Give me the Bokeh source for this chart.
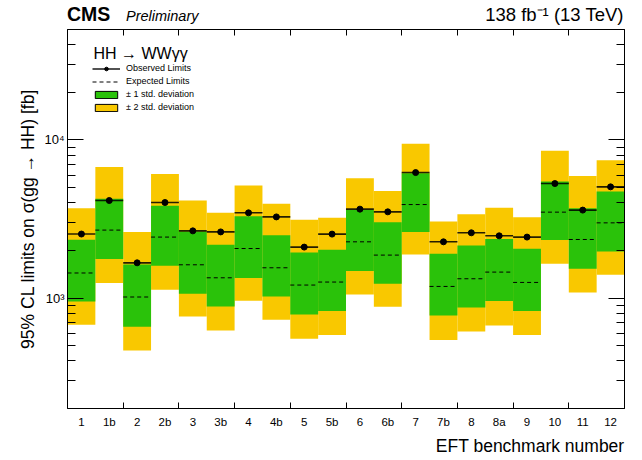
from bokeh.plotting import figure
from bokeh.layouts import column
from bokeh.models import (Range1d, FixedTicker, LinearAxis, LogAxis, Label, Title, Div,
                          Legend, LegendItem, ColumnDataSource)
from bokeh.embed import file_html
from bokeh.resources import INLINE

# ---- data ----
categories = ["1", "1b", "2", "2b", "3", "3b", "4", "4b", "5", "5b",
              "6", "6b", "7", "7b", "8", "8a", "9", "10", "11", "12"]
observed = [2540, 4140, 1670, 4020, 2660, 2620, 3460, 3260, 2100, 2537,
            3650, 3510, 6220, 2268, 2586, 2475, 2430, 5300, 3600, 5050]
expected = [1440, 2690, 1015, 2430, 1623, 1343, 2057, 1554, 1208, 1262,
            2268, 1869, 3903, 1184, 1324, 1459, 1255, 3494, 2346, 2990]
minus2 = [678, 1244, 465, 1128, 765, 622, 962, 729, 553, 584,
          1054, 881, 1886, 543, 615, 671, 584, 1647, 1085, 1404]
minus1 = [952, 1764, 659, 1600, 1065, 885, 1338, 1023, 788, 828,
          1481, 1231, 2612, 776, 872, 957, 828, 2325, 1531, 1970]
plus1 = [2335, 4240, 1630, 3830, 2635, 2170, 3296, 2500, 1941, 2019,
         3612, 3021, 6162, 1905, 2149, 2359, 2048, 5453, 3703, 4714]
plus2 = [3700, 6750, 2620, 6100, 4140, 3470, 5144, 3943, 3123, 3216,
         5728, 4762, 9475, 3047, 3394, 3719, 3249, 8558, 5923, 7443]

y_major = [1000, 10000]
y_major_labels = ["10\u00b3", "10\u2074"]
y_minor = [300, 400, 500, 600, 700, 800, 900,
           2000, 3000, 4000, 5000, 6000, 7000, 8000, 9000,
           20000, 30000, 40000]
x_edge_ticks = [2, 4, 6, 8, 10, 12, 14, 16, 18]

FONT = "Liberation Sans"
YELLOW = "#F9C800"
GREEN = "#2AC20A"

W = 640
HEAD_H = 26
FW, FH = 557, 380

# ---------------- header (CMS label + luminosity) as real HTML text ----------------
span = ("position:absolute;white-space:nowrap;line-height:1;color:black;"
        "font-family:'Liberation Sans',Arial,sans-serif;")
head_html = (
    f'<div style="position:relative;width:{W}px;height:{HEAD_H}px;">'
    f'<span style="{span}left:67px;top:5px;font-size:19.5px;font-weight:bold;">CMS</span>'
    f'<span style="{span}left:126px;top:9.2px;font-size:14.5px;font-style:italic;">Preliminary</span>'
    f'<span style="{span}right:16.5px;top:5.8px;font-size:18.5px;">138 fb\u207b\u00b9 (13 TeV)</span>'
    '</div>'
)
head = Div(text=head_html, width=W, height=HEAD_H, margin=(0, 0, 0, 0))

# ---------------- main plot ----------------
n = len(categories)
left = list(range(n))
right = [i + 1 for i in range(n)]
centers = [i + 0.5 for i in range(n)]
src = ColumnDataSource(dict(left=left, right=right, center=centers,
                            obs=observed, exp=expected, m2=minus2, m1=minus1,
                            p1=plus1, p2=plus2))

p = figure(width=W, height=458 - HEAD_H, x_range=Range1d(0, n), y_range=Range1d(200, 50000),
           y_axis_type="log", output_backend="svg", toolbar_location=None,
           min_border_left=67, min_border_right=16, min_border_top=3,
           min_border_bottom=49, margin=(0, 0, 0, 0))
p.title = None
p.xgrid.visible = False
p.ygrid.visible = False
p.outline_line_color = "black"
p.outline_line_width = 1

# bands
p.quad(left="left", right="right", bottom="m2", top="p2", source=src,
       fill_color=YELLOW, line_color=None)
p.quad(left="left", right="right", bottom="m1", top="p1", source=src,
       fill_color=GREEN, line_color=None)
exp_r = p.segment(x0="left", x1="right", y0="exp", y1="exp", source=src,
                  line_color="black", line_width=1, line_dash="4 3")
obs_r = p.segment(x0="left", x1="right", y0="obs", y1="obs", source=src,
                  line_color="black", line_width=1.6, line_alpha=0.85)
dot_r = p.scatter(x="center", y="obs", source=src, size=6, marker="circle",
                  fill_color="black", line_color="black")

# legend-only boxes (NaN geometry: nothing is drawn in the frame)
nan = float("nan")
leg_src = ColumnDataSource(dict(l=[nan], r=[nan], b=[nan], t=[nan]))
g_leg = p.quad(left="l", right="r", bottom="b", top="t", source=leg_src,
               fill_color=GREEN, line_color="black", line_width=1)
y_leg = p.quad(left="l", right="r", bottom="b", top="t", source=leg_src,
               fill_color=YELLOW, line_color="black", line_width=1)

legend = Legend(items=[
    LegendItem(label="Observed Limits", renderers=[obs_r, dot_r]),
    LegendItem(label="Expected Limits", renderers=[exp_r]),
    LegendItem(label="\u00b1 1 std. deviation", renderers=[g_leg]),
    LegendItem(label="\u00b1 2 std. deviation", renderers=[y_leg]),
], location=(25, 296), orientation="vertical")
legend.label_text_font = FONT
legend.label_text_font_size = "9px"
legend.label_text_color = "black"
legend.glyph_width = 28
legend.glyph_height = 9
legend.label_height = 10
legend.spacing = 3
legend.label_standoff = 6
legend.padding = 0
legend.margin = 0
legend.border_line_color = None
legend.background_fill_alpha = 0
p.add_layout(legend, "center")

p.add_layout(Label(x=26, y=FH - 25, x_units="screen", y_units="screen",
                   text="HH \u2192 WW\u03b3\u03b3", text_font=FONT, text_font_size="16px",
                   text_baseline="alphabetic", text_color="black"))

# bottom axis: labels at bin centres, ticks at every second bin edge
xa = p.xaxis[0]
xa.ticker = FixedTicker(ticks=centers, minor_ticks=x_edge_ticks)
xa.major_label_overrides = {c: lab for c, lab in zip(centers, categories)}
xa.major_tick_in = 0
xa.major_tick_out = 0
xa.minor_tick_in = 6
xa.minor_tick_out = 0
xa.major_label_standoff = 7
xa.major_label_text_font = FONT
xa.major_label_text_font_size = "11.5px"
xa.major_label_text_color = "black"
xa.axis_line_color = "black"

p.add_layout(Title(text="EFT benchmark number", align="right", text_font=FONT,
                   text_font_size="17.5px", text_font_style="normal",
                   text_color="black", standoff=6), "below")

# left axis
ya = p.yaxis[0]
ya.ticker = FixedTicker(ticks=y_major, minor_ticks=y_minor)
ya.major_label_overrides = {v: lab for v, lab in zip(y_major, y_major_labels)}
ya.major_tick_in = 16
ya.major_tick_out = 0
ya.minor_tick_in = 8
ya.minor_tick_out = 0
ya.major_label_standoff = 3
ya.major_label_text_font = FONT
ya.major_label_text_font_size = "13px"
ya.major_label_text_color = "black"
ya.axis_label = "95% CL limits on \u03c3(gg \u2192 HH) [fb]"
ya.axis_label_text_font = FONT
ya.axis_label_text_font_size = "17.5px"
ya.axis_label_text_font_style = "normal"
ya.axis_label_text_color = "black"
ya.axis_label_standoff = 3
ya.axis_line_color = "black"

# top and right mirror axes (ticks only, labels blanked)
top = LinearAxis(ticker=FixedTicker(ticks=x_edge_ticks),
                 major_tick_in=6, major_tick_out=0, minor_tick_in=0, minor_tick_out=0,
                 major_label_standoff=0, major_label_text_font_size="1px",
                 major_label_text_color=None, axis_line_color="black")
top.major_label_overrides = {t: " " for t in x_edge_ticks}
p.add_layout(top, "above")
rax = LogAxis(ticker=FixedTicker(ticks=y_major, minor_ticks=y_minor),
              major_tick_in=16, major_tick_out=0, minor_tick_in=8, minor_tick_out=0,
              major_label_standoff=0, major_label_text_font_size="1px",
              major_label_text_color=None, axis_line_color="black")
rax.major_label_overrides = {v: " " for v in y_major}
p.add_layout(rax, "right")

layout = column(head, p, spacing=0)
open("out.html", "w").write(file_html(layout, INLINE))
